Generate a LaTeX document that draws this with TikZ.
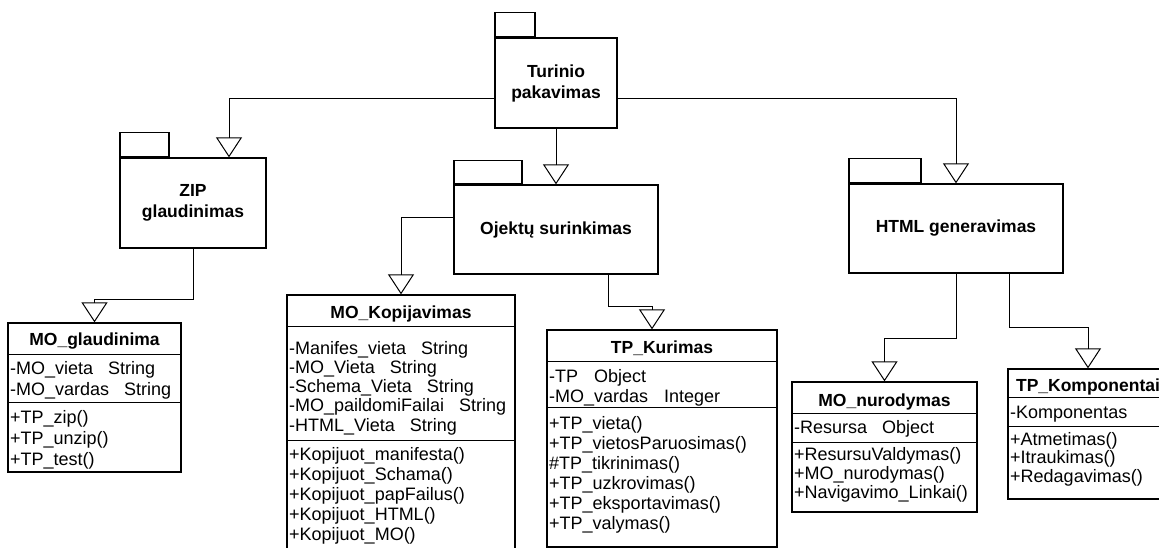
\documentclass[tikz,border=0pt]{standalone}
\usepackage{fontspec}
\setmainfont{Liberation Sans}
\usetikzlibrary{arrows.meta}
\newcommand\gapsp{\hspace{15pt}}
\begin{document}
\begin{tikzpicture}[x=1pt,y=-1pt,
  pkgbox/.style={draw, line width=1.3pt, inner sep=0pt, align=center,
    font=\bfseries\fontsize{17.5}{21}\selectfont},
  pkgtab/.style={draw, line width=1.3pt, inner sep=0pt, anchor=south west},
  classbox/.style={draw, line width=1.3pt, inner sep=0pt},
  divider/.style={line width=1.3pt},
  head/.style={anchor=base, inner sep=0pt, font=\bfseries\fontsize{17.5}{20}\selectfont},
  member/.style={anchor=base west, inner sep=0pt, font=\fontsize{18}{20}\selectfont},
  gen/.style={draw, line width=1pt, -{Triangle[open, length=20pt, width=26pt]}},
]
\useasboundingbox (0,0) rectangle (1159,548);
\clip (0,0) rectangle (1159,548);
\fill[white] (0,0) rectangle (1159,548);

% ---------- packages ----------
\node[pkgbox, minimum width=122pt, minimum height=90pt] (tur) at (556,83) {Turinio\\pakavimas};
\node[pkgtab, minimum width=40pt, minimum height=24pt] (tur-tab) at (tur.north west) {};

\node[pkgbox, minimum width=146pt, minimum height=90pt] (zip) at (193,203) {ZIP\\glaudinimas};
\node[pkgtab, minimum width=49pt, minimum height=24pt] (zip-tab) at (zip.north west) {};

\node[pkgbox, minimum width=204pt, minimum height=89pt] (obj) at (556,229.5) {Ojektų surinkimas};
\node[pkgtab, minimum width=68pt, minimum height=23pt] (obj-tab) at (obj.north west) {};

\node[pkgbox, minimum width=214pt, minimum height=89pt] (html) at (956,228.5) {HTML generavimas};
\node[pkgtab, minimum width=72pt, minimum height=24pt] (html-tab) at (html.north west) {};

% ---------- classes ----------
% MO_glaudinima
\node[classbox, minimum width=173pt, minimum height=149pt] (glaud) at (94.5,397.5) {};
\draw[divider] ([yshift=-32pt]glaud.north west) -- ([yshift=-32pt]glaud.north east);
\draw[divider] ([yshift=-80pt]glaud.north west) -- ([yshift=-80pt]glaud.north east);
\node[head] (glaud-h) at (94.5,345) {MO\_glaudinima};
\foreach \txt [count=\i from 0] in {-MO\_vieta\gapsp String, -MO\_vardas\gapsp String}
  \node[member] (glaud-a\i) at (10,{374+21*\i}) {\txt};
\foreach \txt [count=\i from 0] in {+TP\_zip(), +TP\_unzip(), +TP\_test()}
  \node[member] (glaud-m\i) at (10,{423+21*\i}) {\txt};

% MO_Kopijavimas
\node[classbox, minimum width=228pt, minimum height=265pt] (kop) at (401,427.5) {};
\draw[divider] ([yshift=-32pt]kop.north west) -- ([yshift=-32pt]kop.north east);
\draw[divider] ([yshift=-146pt]kop.north west) -- ([yshift=-146pt]kop.north east);
\node[head] (kop-h) at (401,318) {MO\_Kopijavimas};
\foreach \txt [count=\i from 0] in {-Manifes\_vieta\gapsp String, -MO\_Vieta\gapsp String,
    -Schema\_Vieta\gapsp String, -MO\_paildomiFailai\gapsp String, -HTML\_Vieta\gapsp String}
  \node[member] (kop-a\i) at (289,{354+19.3*\i}) {\txt};
\foreach \txt [count=\i from 0] in {+Kopijuot\_manifesta(), +Kopijuot\_Schama(),
    +Kopijuot\_papFailus(), +Kopijuot\_HTML(), +Kopijuot\_MO()}
  \node[member] (kop-m\i) at (289,{460+20*\i}) {\txt};

% TP_Kurimas
\node[classbox, minimum width=230pt, minimum height=217pt] (kur) at (662,438.5) {};
\draw[divider] ([yshift=-32pt]kur.north west) -- ([yshift=-32pt]kur.north east);
\draw[divider] ([yshift=-78pt]kur.north west) -- ([yshift=-78pt]kur.north east);
\node[head] (kur-h) at (662,353) {TP\_Kurimas};
\node[member] (kur-a0) at (549,382) {-TP\hspace{16pt}Object};
\node[member] (kur-a1) at (549,402) {-MO\_vardas\hspace{16pt}Integer};
\foreach \txt [count=\i from 0] in {+TP\_vieta(), +TP\_vietosParuosimas(), \#TP\_tikrinimas(),
    +TP\_uzkrovimas(), +TP\_eksportavimas(), +TP\_valymas()}
  \node[member] (kur-m\i) at (549,{429+20*\i}) {\txt};

% MO_nurodymas
\node[classbox, minimum width=185pt, minimum height=130pt] (nur) at (884.5,447) {};
\draw[divider] ([yshift=-32pt]nur.north west) -- ([yshift=-32pt]nur.north east);
\draw[divider] ([yshift=-61pt]nur.north west) -- ([yshift=-61pt]nur.north east);
\node[head] (nur-h) at (884.5,406) {MO\_nurodymas};
\node[member] (nur-a0) at (794,433) {-Resursa\gapsp Object};
\foreach \txt [count=\i from 0] in {+ResursuValdymas(), +MO\_nurodymas(), +Navigavimo\_Linkai()}
  \node[member] (nur-m\i) at (794,{460+19*\i}) {\txt};

% TP_Komponentai
\node[classbox, minimum width=160pt, minimum height=130pt] (komp) at (1088,434) {};
\draw[divider] ([yshift=-29pt]komp.north west) -- ([yshift=-29pt]komp.north east);
\draw[divider] ([yshift=-58pt]komp.north west) -- ([yshift=-58pt]komp.north east);
\node[head] (komp-h) at (1088,391) {TP\_Komponentai};
\node[member] (komp-a0) at (1010,418) {-Komponentas};
\foreach \txt [count=\i from 0] in {+Atmetimas(), +Itraukimas(), +Redagavimas()}
  \node[member] (komp-m\i) at (1010,{445+18.5*\i}) {\txt};

% ---------- generalisation connectors ----------
\draw[gen] ([yshift=-16pt]tur.west) -| ([xshift=36pt]zip.north);
\draw[gen] (tur.south) -- (obj.north);
\draw[gen] ([yshift=-16pt]tur.east) -| (html.north);
\draw[gen] (zip.south) -- ++(0,51) -| (glaud.north);
\draw[gen] ([yshift=11.5pt]obj.west) -| (kop.north);
\draw[gen] ([xshift=52pt]obj.south) -- ++(0,32) -| ([xshift=-10pt]kur.north);
\draw[gen] (html.south) -- ++(0,65) -| (nur.north);
\draw[gen] ([xshift=53pt]html.south) -- ++(0,54) -| (komp.north);
\end{tikzpicture}
\end{document}
